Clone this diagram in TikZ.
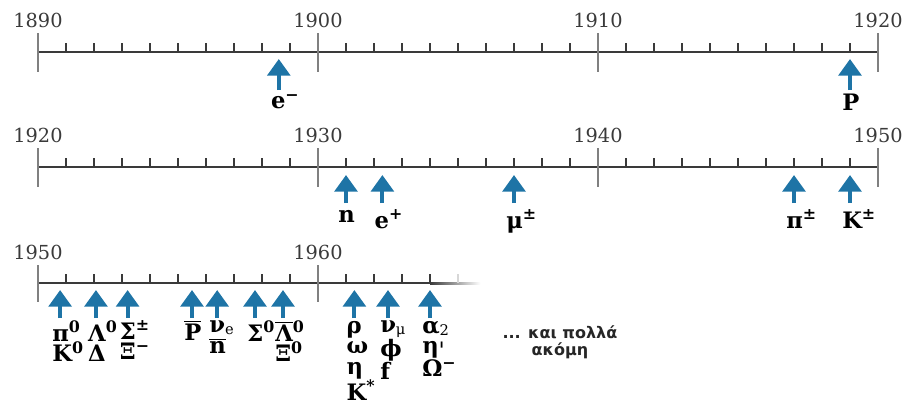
\documentclass[tikz,border=0pt]{standalone}
\usepackage{fontspec}
\setmainfont{DejaVu Serif}
\newfontfamily\grsans{DejaVu Sans}
\usetikzlibrary{positioning,arrows.meta}
\definecolor{arrowblue}{HTML}{1E74A6}
\definecolor{axis}{HTML}{3A3A3A}
\definecolor{major}{HTML}{808080}
\newcommand{\ovl}[1]{\ensuremath{\overline{\mbox{#1}}}}
\newcommand{\lowidx}[1]{\raisebox{-1.5pt}{\fontsize{11}{11}\selectfont\mdseries #1}}
\tikzset{
  year/.style={font=\fontsize{14.5}{16}\selectfont,text=axis,inner sep=0pt},
  particle/.style={font=\fontsize{17}{15.4}\selectfont\bfseries,align=left,inner sep=0pt},
  discovery/.style={arrowblue,line width=3pt,-{Triangle[width=17pt,length=12.5pt]}},
  mtick/.style={major,line width=2.2pt},
  stick/.style={axis,line width=1.3pt},
  phrase/.style={font=\grsans\bfseries\fontsize{12}{12.8}\selectfont,align=center,text=black!85,inner sep=0pt}
}
\begin{document}
\begin{tikzpicture}[x=21pt,y=-0.75pt]
  \useasboundingbox (-1.357,0) rectangle (31.107,405);
  % row 1: 1890 - 1920
  \draw[stick] (0,52)--(30,52);
  \foreach \t in {1,...,29}{\draw[stick] (\t,52)--(\t,43);}
  \foreach \t/\yr in {0/1890,10/1900,20/1910,30/1920}{
    \draw[mtick] (\t,33)--(\t,72);
    \node[year] (ra\yr) at (\t,20){\yr};}
  \foreach \x/\n/\lbl in {8.6/em/{e\textsuperscript{−}},29/p/P}{
    \coordinate (\n-tip) at (\x,59);
    \coordinate (\n-foot) at (\x,90);
    \draw[discovery] (\n-foot)--(\n-tip);
    \node[particle,below right=3pt and -6pt of \n-foot] (\n) {\lbl};}
  % row 2: 1920 - 1950
  \draw[stick] (0,167)--(30,167);
  \foreach \t in {1,...,29}{\draw[stick] (\t,167)--(\t,158);}
  \foreach \t/\yr in {0/1920,10/1930,20/1940,30/1950}{
    \draw[mtick] (\t,148)--(\t,187);
    \node[year] (rb\yr) at (\t,135){\yr};}
  \foreach \x/\n/\lbl in {11/n/n,12.3/ep/{e\textsuperscript{+}},17/mu/{μ\textsuperscript{±}},
      27/pi/{π\textsuperscript{±}},29/k/{K\textsuperscript{±}}}{
    \coordinate (\n-tip) at (\x,175);
    \coordinate (\n-foot) at (\x,203);
    \draw[discovery] (\n-foot)--(\n-tip);
    \node[particle,below right=5pt and -6pt of \n-foot] (\n) {\lbl};}
  % row 3: 1950 - 1960 and a bit more
  \draw[stick] (0,283)--(14,283);
  \shade[left color=axis,right color=white] (14,282) rectangle (15.8,284);
  \foreach \t in {1,...,9,11,12,13,14}{\draw[stick] (\t,283)--(\t,274);}
  \draw[axis!20,line width=1.3pt] (15,283)--(15,274);
  \foreach \t/\yr in {0/1950,10/1960}{
    \draw[mtick] (\t,265)--(\t,302);
    \node[year] (rc\yr) at (\t,252){\yr};}
  \foreach \x/\n/\lbl in {0.79/pz/{π\textsuperscript{0}\\K\textsuperscript{0}},
      2.07/lz/{Λ\textsuperscript{0}\\Δ},
      3.2/sg/{Σ\textsuperscript{±}\\Ξ\textsuperscript{−}},
      5.5/pb/{\ovl{P}},
      6.4/nue/{ν\lowidx{e}\\\ovl{n}},
      7.75/sz/{Σ\textsuperscript{0}},
      8.75/lb/{\ovl{Λ}\textsuperscript{0}\\Ξ\textsuperscript{0}},
      11.3/rho/{ρ\\ω\\η\\K\textsuperscript{*}},
      12.5/num/{ν\lowidx{μ}\\ϕ\\f},
      14/al/{α\lowidx{2}\\η\smash{\raisebox{-3.5pt}{\mdseries\textquotesingle}}\\Ω\textsuperscript{−}}}{
    \coordinate (\n-tip) at (\x,290);
    \coordinate (\n-foot) at (\x,318);
    \draw[discovery] (\n-foot)--(\n-tip);
    \node[particle,below right=2pt and -6pt of \n-foot] (\n) {\lbl};}
  \node[phrase] (more) at (18.64,342){... και πολλά\\ακόμη};
\end{tikzpicture}
\end{document}
